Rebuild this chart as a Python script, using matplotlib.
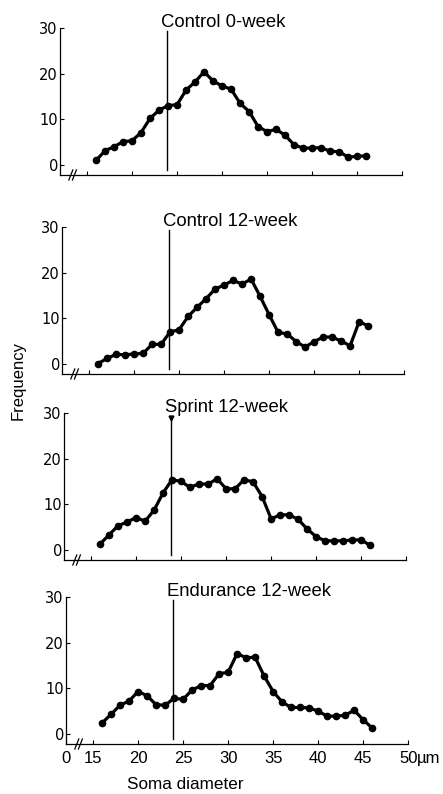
import numpy as np
import matplotlib
matplotlib.use("Agg")
import matplotlib.pyplot as plt

# soma diameter classes (um), one point per 1 um class
diameter = np.arange(16, 47)

control_0 = [1, 3.1, 4, 5.1, 5.3, 7.1, 10.2, 12, 13, 13.2, 16.4, 18.2, 20.4, 18.4,
             17.3, 16.6, 13.5, 11.7, 8.4, 7.3, 7.8, 6.5, 4.4, 3.7, 3.7, 3.8, 3,
             2.9, 1.7, 1.9, 2]
control_12 = [0.1, 1.2, 2.1, 2, 2.2, 2.3, 4.3, 4.3, 7, 7.5, 10.4, 12.4, 14.3, 16.4,
              17.3, 18.3, 17.5, 18.6, 14.8, 10.8, 6.9, 6.6, 4.9, 3.7, 4.9, 5.9,
              5.9, 5, 4, 9.3, 8.3]
sprint_12 = [1.3, 3.3, 5.3, 6.1, 7.1, 6.3, 8.7, 12.5, 15.4, 15, 13.7, 14.5, 14.4,
             15.6, 13.4, 13.4, 15.4, 14.9, 11.7, 6.8, 7.7, 7.7, 6.7, 4.6, 2.9, 2,
             2, 2, 2.2, 2.2, 1]
endurance_12 = [2.4, 4.3, 6.3, 7.2, 9.3, 8.4, 6.4, 6.3, 7.8, 7.6, 9.6, 10.6, 10.6,
                13.2, 13.5, 17.6, 16.7, 16.8, 12.7, 9.3, 7, 5.8, 5.8, 5.7, 5, 3.9,
                3.9, 4.1, 5.2, 3.1, 1.3]

series = [control_0, control_12, sprint_12, endurance_12]
titles = ["Control 0-week", "Control 12-week", "Sprint 12-week", "Endurance 12-week"]
marker_line = 23.9  # vertical reference line (um)

xticks = [15, 20, 25, 30, 35, 40, 45, 50]
yticks = [0, 10, 20, 30]

plt.rcParams['font.family'] = ['Liberation Sans', 'DejaVu Sans']

W, H = 443, 794
fig = plt.figure(figsize=(W / 100, H / 100), dpi=100)

lefts = [60, 62, 64, 66]
tops = [28, 227, 413, 597]
axw, axh = 344, 147
x0, x1 = 12, 50.2
y0, y1 = -2.2, 30

for i in range(4):
    ax = fig.add_axes([lefts[i] / W, 1 - (tops[i] + axh) / H, axw / W, axh / H])
    ax.set_xlim(x0, x1)
    ax.set_ylim(y0, y1)
    for s in ['top', 'right']:
        ax.spines[s].set_visible(False)
    ax.spines['left'].set_linewidth(0.9)
    ax.spines['bottom'].set_linewidth(0.9)
    ax.spines['bottom'].set_bounds(x0, 50)

    ax.plot(diameter, series[i], color='black', lw=2.3, marker='o', ms=4.5,
            solid_joinstyle='round', zorder=3)
    ax.plot([marker_line, marker_line], [-1.1, 29.3], color='black', lw=1.0, zorder=2)
    if i == 2:
        ax.plot(marker_line, 29.0, marker='v', color='black', ms=3.5)

    ax.text(marker_line - 0.7, 30.3, titles[i], fontsize=13.3, ha='left', va='baseline')

    # axis break marks
    for bx in [13.2, 13.6]:
        ax.plot([bx - 0.22, bx + 0.22], [y0 - 1.1, y0 + 1.1], color='black', lw=0.9,
                clip_on=False)

    ax.set_yticks(yticks)
    ax.set_yticklabels([str(v) for v in yticks], family=['DejaVu Sans'], fontsize=10.5)
    ax.tick_params(axis='y', direction='in', length=3, width=0.8, pad=1.5)

    if i == 3:
        ax.set_xticks([12] + xticks)
        ax.set_xticklabels(['0'] + [str(v) for v in xticks], fontsize=12)
        ax.tick_params(axis='x', direction='in', length=3, width=0.8, pad=5)
        ax.annotate('µm', xy=(50, y0), xytext=(6.5, -5), textcoords='offset points',
                    ha='left', va='top', fontsize=12)
    else:
        ax.set_xticks(xticks)
        ax.set_xticklabels([])
        ax.tick_params(axis='x', direction='in', length=3, width=0.8)

fig.text(18 / W, 1 - 380 / H, 'Frequency', rotation=90, fontsize=12,
         ha='center', va='center')
fig.text(127 / W, 2 / H, 'Soma diameter', fontsize=12.3, ha='left', va='bottom')

fig.savefig('out.png', dpi=100)
